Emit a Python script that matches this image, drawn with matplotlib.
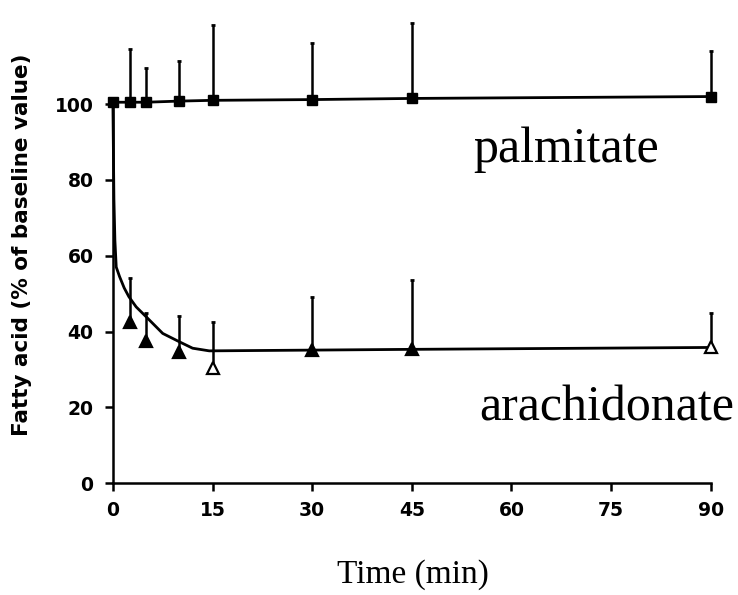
import matplotlib
matplotlib.use("Agg")
import matplotlib.pyplot as plt

# palmitate (filled squares)
palm_t = [0, 2.5, 5, 10, 15, 30, 45, 90]
palm_y = [100.5, 100.5, 100.5, 100.8, 101, 101.2, 101.5, 102]
palm_err = [0, 14, 9, 10.5, 20, 15, 20, 12]

# arachidonate (triangles)
ara_t = [2.5, 5, 10, 15, 30, 45, 90]
ara_y = [42.5, 37.4, 34.7, 30.4, 35.2, 35.5, 36]
ara_err = [11.7, 7.5, 9.5, 12.1, 13.8, 18, 9]
ara_open = [False, False, False, True, False, False, True]

# fitted curve
curve_t = [0, 0.15, 0.3, 0.5, 1, 1.7, 2.4, 3.5, 5, 7.5, 10, 12, 14.5, 30, 45, 90]
curve_y = [100, 75, 64, 57, 54.5, 51.5, 49.2, 46.5, 43.9, 39.5, 37.3, 35.6, 34.9, 35.1, 35.3, 35.8]

xticks = [0, 15, 30, 45, 60, 75, 90]
yticks = [0, 20, 40, 60, 80, 100]

fig = plt.figure(figsize=(7.38, 5.95), dpi=100)
ax = fig.add_axes([0.153, 0.188, 0.81, 0.637])

ax.plot(curve_t, curve_y, color="black", lw=2, clip_on=False, zorder=3)
ax.plot(palm_t, palm_y, color="black", lw=2, clip_on=False, zorder=3)

ax.errorbar(palm_t, palm_y, yerr=[[0] * len(palm_err), palm_err], fmt="none",
            ecolor="black", elinewidth=1.8, capsize=1.5, capthick=2, clip_on=False)
ax.plot(palm_t, palm_y, "s", color="black", ms=7, clip_on=False, zorder=4)

ax.errorbar(ara_t, ara_y, yerr=[[0] * len(ara_err), ara_err], fmt="none",
            ecolor="black", elinewidth=1.8, capsize=1.5, capthick=2, clip_on=False)
for t, y, op in zip(ara_t, ara_y, ara_open):
    ax.plot(t, y, "^", ms=8, mec="black", mew=1.6,
            mfc="white" if op else "black", clip_on=False, zorder=4)

ax.set_xlim(0, 90)
ax.set_ylim(0, 100)
ax.set_xticks(xticks)
ax.set_yticks(yticks)
for s in ["top", "right"]:
    ax.spines[s].set_visible(False)
for s in ["left", "bottom"]:
    ax.spines[s].set_linewidth(1.8)
ax.tick_params(direction="out", length=6, width=1.8, labelsize=13.5)
ax.tick_params(axis="x", pad=7)
ax.tick_params(axis="y", pad=8)
for lab in ax.get_xticklabels() + ax.get_yticklabels():
    lab.set_fontweight("bold")

ax.text(68.2, 88, "palmitate", family="Liberation Serif", fontsize=36,
        ha="center", va="center")
ax.text(74.3, 19.8, "arachidonate", family="Liberation Serif", fontsize=36,
        ha="center", va="center", clip_on=False)

fig.text(22 / 738, 1 - 245 / 595, "Fatty acid (% of baseline value)",
         rotation=90, ha="center", va="center", fontsize=15.5, fontweight="bold")
fig.text(413 / 738, 1 - 575 / 595, "Time (min)", family="Liberation Serif",
         fontsize=24, ha="center", va="center")

fig.savefig("out.png", dpi=100)
